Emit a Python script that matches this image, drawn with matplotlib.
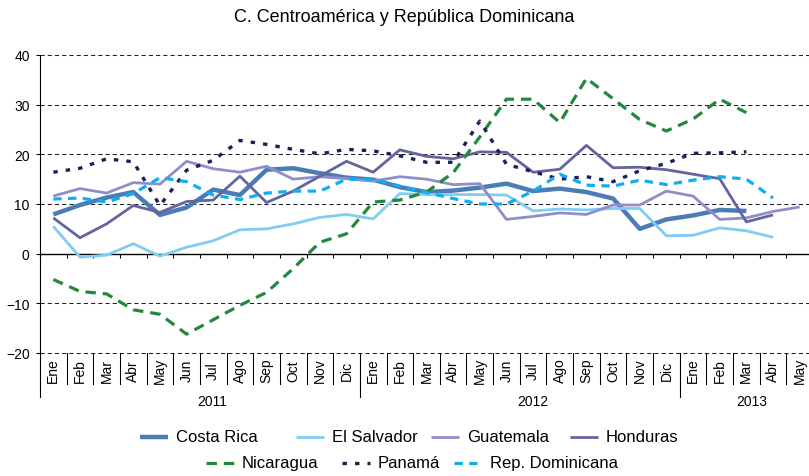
import matplotlib
matplotlib.use('Agg')
import matplotlib.pyplot as plt
from matplotlib.lines import Line2D
import numpy as np

plt.rcParams['font.family'] = ['Liberation Sans', 'DejaVu Sans']
plt.rcParams['lines.scale_dashes'] = False

title = "C. Centroamérica y República Dominicana"
months = ['Ene', 'Feb', 'Mar', 'Abr', 'May', 'Jun', 'Jul', 'Ago', 'Sep', 'Oct', 'Nov', 'Dic',
          'Ene', 'Feb', 'Mar', 'Abr', 'May', 'Jun', 'Jul', 'Ago', 'Sep', 'Oct', 'Nov', 'Dic',
          'Ene', 'Feb', 'Mar', 'Abr', 'May']
years = ['2011', '2012', '2013']

costa_rica = [7.9, 9.8, 11.3, 12.4, 7.8, 9.3, 12.9, 11.8, 16.9, 17.2, 16.2, 15.3, 14.9, 13.4,
              12.4, 12.7, 13.3, 14.1, 12.6, 13.1, 12.4, 11.1, 5.0, 6.9, 7.7, 8.8, 8.6]
el_salvador = [5.5, -0.7, -0.3, 2.0, -0.5, 1.3, 2.6, 4.8, 5.0, 6.0, 7.3, 7.9, 7.0, 12.1, 11.9,
               11.9, 11.9, 11.8, 8.6, 9.0, 8.8, 9.1, 9.1, 3.6, 3.7, 5.2, 4.6, 3.3]
guatemala = [11.6, 13.1, 12.2, 14.3, 14.0, 18.6, 17.1, 16.4, 17.6, 15.0, 15.5, 15.1, 14.6, 15.5,
             15.0, 13.9, 14.1, 6.9, 7.5, 8.2, 7.9, 9.8, 9.8, 12.6, 11.6, 6.9, 7.2, 8.5, 9.4]
honduras = [7.2, 3.2, 6.0, 9.7, 8.3, 10.5, 10.8, 15.6, 10.3, 12.6, 15.6, 18.6, 16.4, 20.9, 19.6,
            19.1, 20.5, 20.4, 16.4, 17.0, 21.8, 17.3, 17.4, 16.9, 16.0, 15.1, 6.4, 7.8]
nicaragua = [-5.2, -7.6, -8.1, -11.3, -12.2, -16.2, -13.3, -10.4, -7.8, -3.0, 2.3, 4.0, 10.4, 10.8,
             12.4, 16.3, 23.5, 31.1, 31.1, 26.4, 35.3, 31.2, 27.0, 24.7, 27.1, 31.1, 28.4]
panama = [16.4, 17.2, 19.1, 18.5, 9.7, 16.8, 18.8, 22.8, 22.0, 21.0, 20.1, 21.0, 20.7, 19.7, 18.4,
          18.4, 26.7, 18.0, 16.5, 15.0, 15.5, 14.5, 16.7, 18.2, 20.2, 20.3, 20.5]
rep_dom = [11.0, 11.2, 10.4, 12.1, 15.3, 14.5, 11.8, 10.9, 12.2, 12.6, 12.6, 15.0, 15.0, 13.6,
           12.3, 11.1, 10.0, 10.0, 12.6, 16.0, 13.8, 13.6, 14.8, 13.9, 14.8, 15.5, 15.0, 11.2]

series = [
    ("Costa Rica", costa_rica, dict(color='#4a7cb6', lw=3.2, solid_capstyle='butt')),
    ("El Salvador", el_salvador, dict(color='#80cdf3', lw=2.0, solid_capstyle='butt')),
    ("Guatemala", guatemala, dict(color='#8e8ecb', lw=2.0, solid_capstyle='butt')),
    ("Honduras", honduras, dict(color='#64649f', lw=2.0, solid_capstyle='butt')),
    ("Nicaragua", nicaragua, dict(color='#21893f', lw=2.3, dashes=(7.5, 5.0))),
    ("Panamá", panama, dict(color='#1e1e5a', lw=2.4, dashes=(3.2, 5.8))),
    ("Rep. Dominicana", rep_dom, dict(color='#0cb0ee', lw=2.3, dashes=(6.0, 4.6))),
]

W, H = 809, 477
fig = plt.figure(figsize=(W / 100, H / 100), dpi=100)
x0, x1, ytop, ybot = 40, 813, 56, 354
ax = fig.add_axes([x0 / W, 1 - ybot / H, (x1 - x0) / W, (ybot - ytop) / H])
ax.set_xlim(0, 29)
ax.set_ylim(-20, 40)
k = 60 / (ybot - ytop)  # data units per pixel

# grid lines
for gy in [40, 30, 20, 10, -10, -20]:
    ax.axhline(gy, color='#222222', lw=0.75, dashes=(3.0, 2.2), zorder=1, clip_on=False)

for s in ['top', 'right']:
    ax.spines[s].set_visible(False)
ax.spines['left'].set_linewidth(0.8)
ax.spines['bottom'].set_position(('data', 0))
ax.spines['bottom'].set_linewidth(1.0)

ax.set_yticks([-20, -10, 0, 10, 20, 30, 40])
ax.tick_params(axis='y', length=2.6, width=0.75, pad=4.8, labelsize=10, direction='out')
ax.set_xticks(np.arange(0, 30))
ax.set_xticklabels([])
ax.tick_params(axis='x', length=3.0, width=0.8, direction='out')

for name, vals, st in series:
    xs = np.arange(len(vals)) + 0.5
    ax.plot(xs, vals, label=name, zorder=3, **st)

# category labels (multi-level axis)
for i, m in enumerate(months):
    ax.text(i + 0.5, -20 - 17 * k, m, rotation=90, ha='center', va='center',
            fontsize=10, clip_on=False)
for i in range(1, 29):
    if i % 12 == 0:
        continue
    ax.plot([i, i], [-20, -20 - 31 * k], color='black', lw=0.75, clip_on=False)
for i in [0, 12, 24]:
    ax.plot([i, i], [-20, -20 - 44 * k], color='black', lw=0.8, clip_on=False)
year_x = [6.45, 18.5, 26.7]
for yx, yl in zip(year_x, years):
    ax.text(yx, -20 - 48 * k, yl, ha='center', va='center', fontsize=10, clip_on=False)

fig.text(0.5, 1 - 17 / H, title, ha='center', va='center', fontsize=13)

# legend (manual)
leg_pos = {
    "Costa Rica": (140, 438), "El Salvador": (296, 438), "Guatemala": (431, 438),
    "Honduras": (570, 438), "Nicaragua": (206, 464), "Panamá": (342, 464),
    "Rep. Dominicana": (454, 464),
}
for name, vals, st in series:
    px, py = leg_pos[name]
    yy = 1 - py / H
    ln = Line2D([px / W, (px + 28) / W], [yy, yy], transform=fig.transFigure, **st)
    fig.add_artist(ln)
    fig.text((px + 36) / W, yy, name, ha='left', va='center', fontsize=12)

fig.savefig('out.png', dpi=100)
